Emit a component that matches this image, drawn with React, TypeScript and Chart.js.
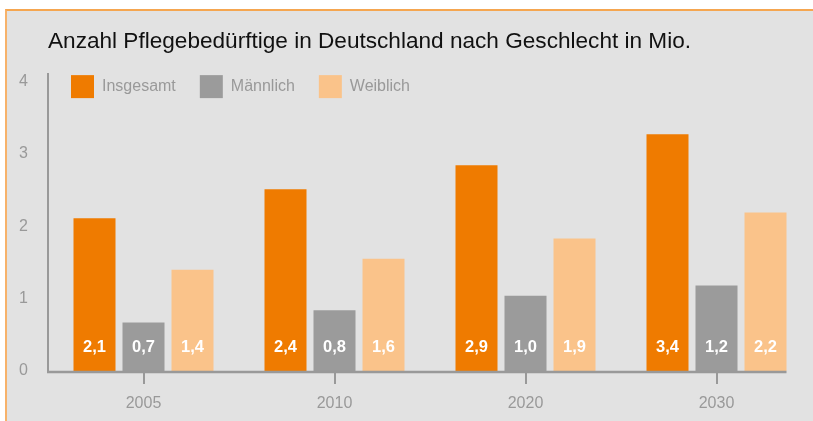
import React, { useEffect, useRef } from 'react';
import { Chart, registerables } from 'chart.js';

Chart.register(...registerables);

const titleText = 'Anzahl Pflegebedürftige in Deutschland nach Geschlecht in Mio.';
const categories = ['2005', '2010', '2020', '2030'];
const seriesNames = ['Insgesamt', 'Männlich', 'Weiblich'];
const insgesamt = [2.11, 2.51, 2.84, 3.27];
const maennlich = [0.67, 0.84, 1.04, 1.18];
const weiblich = [1.4, 1.55, 1.83, 2.19];
const insgesamtLabels = ['2,1', '2,4', '2,9', '3,4'];
const maennlichLabels = ['0,7', '0,8', '1,0', '1,2'];
const weiblichLabels = ['1,4', '1,6', '1,9', '2,2'];
const yTicks = [0, 1, 2, 3, 4];
const colors = ['#ef7b00', '#9b9b9b', '#fac38a'];

const FONT = "'Liberation Sans', Arial, Helvetica, sans-serif";

const layoutTweak = {
  id: 'layoutTweak',
  beforeLayout(chart: any) {
    const lg = chart.legend;
    if (lg && !lg._zeroHeight) {
      const orig = lg.fit.bind(lg);
      lg.fit = function () {
        orig();
        this._realHeight = this.height;
        this.height = 0;
      };
      lg._zeroHeight = true;
    }
  },
  afterLayout(chart: any) {
    const ca = chart.chartArea;
    const lg = chart.legend;
    if (lg) {
      const p = lg.options.labels.padding;
      lg.left = ca.left - 1;
      lg.right = ca.right;
      lg.width = lg.right - lg.left;
      lg.top = ca.top + 1 - p;
      lg.height = (lg._realHeight || 80) + 10;
      lg.bottom = lg.top + lg.height;
    }
    const t = chart.titleBlock;
    if (t) {
      t.left = ca.left;
    }
  },
};

const axisLine = {
  id: 'axisLine',
  afterDatasetsDraw(chart: any) {
    const { ctx, chartArea } = chart;
    let right = chartArea.left;
    chart.getSortedVisibleDatasetMetas().forEach((m: any) =>
      m.data.forEach((el: any) => {
        right = Math.max(right, el.x + el.width / 2);
      })
    );
    const y = chart.scales.y.getPixelForValue(0) + 1;
    ctx.save();
    ctx.strokeStyle = '#999999';
    ctx.lineWidth = 2.5;
    ctx.beginPath();
    ctx.moveTo(chartArea.left - 1, y);
    ctx.lineTo(right, y);
    ctx.stroke();
    ctx.restore();
  },
};

const dataLabels = {
  id: 'dataLabels',
  afterDatasetsDraw(chart: any) {
    const ctx = chart.ctx;
    const base = chart.scales.y.getPixelForValue(0);
    ctx.save();
    ctx.font = `bold 16.5px ${FONT}`;
    ctx.fillStyle = '#ffffff';
    ctx.textAlign = 'center';
    ctx.textBaseline = 'middle';
    chart.data.datasets.forEach((ds: any, i: number) => {
      const meta = chart.getDatasetMeta(i);
      meta.data.forEach((el: any, j: number) => {
        ctx.fillText(ds.valueLabels[j], el.x, base - 23.5);
      });
    });
    ctx.restore();
  },
};

export default function App() {
  const ref = useRef<HTMLCanvasElement | null>(null);

  useEffect(() => {
    if (!ref.current) return;
    Chart.defaults.font.family = FONT;
    const chart = new Chart(ref.current, {
      type: 'bar',
      data: {
        labels: categories,
        datasets: [
          { label: seriesNames[0], data: insgesamt, backgroundColor: colors[0], valueLabels: insgesamtLabels },
          { label: seriesNames[1], data: maennlich, backgroundColor: colors[1], valueLabels: maennlichLabels },
          { label: seriesNames[2], data: weiblich, backgroundColor: colors[2], valueLabels: weiblichLabels },
        ].map((d) => ({
          ...d,
          borderWidth: 0,
          categoryPercentage: 0.7696,
          barPercentage: 0.857,
        })) as any,
      },
      options: {
        responsive: false,
        animation: false,
        events: [],
        layout: { padding: { left: 0, right: 1, top: 0, bottom: 0.8 } },
        plugins: {
          tooltip: { enabled: false },
          title: {
            display: true,
            text: titleText,
            align: 'start',
            color: '#111111',
            font: { size: 22.6, weight: 'normal' },
            padding: { top: 17.7, bottom: 18.3 },
          },
          legend: {
            position: 'top',
            align: 'start',
            labels: {
              boxWidth: 23,
              boxHeight: 23,
              padding: 24,
              color: '#999999',
              font: { size: 16 },
            },
          },
        },
        scales: {
          x: {
            offset: true,
            afterFit: (s: any) => {
              s.height = 49.2;
            },
            grid: {
              display: true,
              drawOnChartArea: false,
              drawTicks: true,
              tickLength: 13,
              offset: false,
              color: '#999999',
              lineWidth: 2,
            },
            border: { display: false },
            ticks: { color: '#999999', font: { size: 16 }, padding: 10 },
          },
          y: {
            min: 0,
            max: 4.1,
            afterBuildTicks: (s: any) => {
              s.ticks = yTicks.map((v) => ({ value: v }));
            },
            afterFit: (s: any) => {
              s.width = 41;
            },
            grid: { display: false, drawTicks: false },
            border: { display: true, color: '#999999', width: 2 },
            ticks: { color: '#999999', font: { size: 16 }, padding: 20 },
          },
        },
      },
      plugins: [layoutTweak, axisLine, dataLabels],
    } as any);
    return () => chart.destroy();
  }, []);

  return (
    <div style={{ position: 'absolute', left: 0, top: 0, width: 813, height: 421, background: '#ffffff', overflow: 'hidden' }}>
      <div
        style={{
          position: 'absolute',
          left: 5,
          top: 9,
          right: 0,
          bottom: 0,
          borderTop: '2px solid #f5a650',
          borderLeft: '2px solid #f7b26a',
          background: '#e2e2e2',
        }}
      >
        <canvas ref={ref} width={806} height={410} style={{ position: 'absolute', left: 0, top: 0, display: 'block' }} />
      </div>
    </div>
  );
}
